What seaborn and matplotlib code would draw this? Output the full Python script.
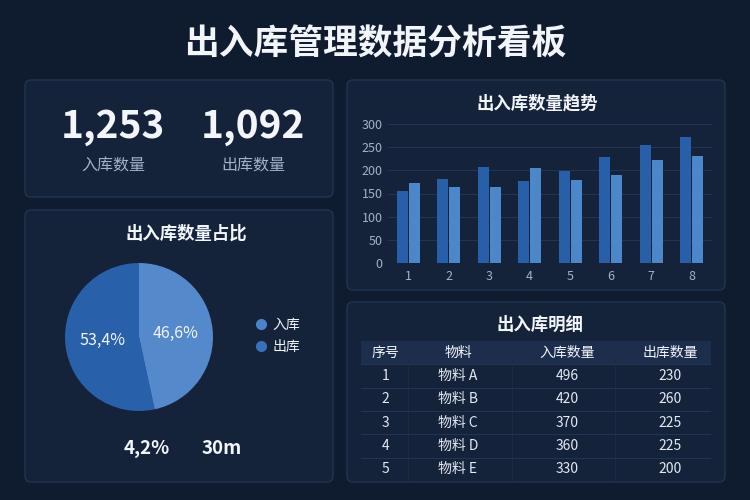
import matplotlib
matplotlib.use('Agg')
import matplotlib.pyplot as plt
from matplotlib.patches import FancyBboxPatch, Rectangle
from matplotlib.lines import Line2D
import seaborn as sns
import pandas as pd

# ---------------- data ----------------
periods = ['1', '2', '3', '4', '5', '6', '7', '8']
inbound = [156, 181, 207, 178, 199, 228, 255, 273]
outbound = [173, 163, 163, 205, 179, 190, 223, 230]
series_names = ['入库', '出库']

kpi_values = ['1,253', '1,092']
kpi_labels = ['入库数量', '出库数量']

pie_labels = ['入库', '出库']
pie_shares = [53.4, 46.6]
extra_stats = ['4,2%', '30m']

table_columns = ['序号', '物料', '入库数量', '出库数量']
table_index = ['1', '2', '3', '4', '5']
table_items = ['物料 A', '物料 B', '物料 C', '物料 D', '物料 E']
table_in = [496, 420, 370, 360, 330]
table_out = [230, 260, 225, 225, 200]

# ---------------- style ----------------
sns.set_theme(style='dark')
plt.rcParams['font.family'] = ['Noto Sans CJK SC', 'DejaVu Sans']
plt.rcParams['axes.unicode_minus'] = False

BG = '#0f1b2f'
PANEL = '#14223a'
BORDER = '#22344f'
DARK = '#2760a8'
LIGHT = '#4b87c9'
PIE_DARK = '#2960aa'
PIE_LIGHT = '#5489cc'
WHITE = '#f2f5fa'
MUTED = '#a3b2c7'
GRID = '#233451'

fig = plt.figure(figsize=(7.5, 5), dpi=100, facecolor=BG)

# background canvas in pixel coordinates
bg = fig.add_axes([0, 0, 1, 1])
bg.set_xlim(0, 750)
bg.set_ylim(500, 0)
bg.axis('off')
bg.set_facecolor(BG)

panels = [(25, 80, 308, 117), (25, 210, 308, 272), (347, 80, 378, 210), (347, 302, 378, 180)]
for (x, y, w, h) in panels:
    bg.add_patch(FancyBboxPatch((x, y), w, h, boxstyle='round,pad=0,rounding_size=6',
                                facecolor=PANEL, edgecolor=BORDER, linewidth=1.0))

bg.text(375, 44, '出入库管理数据分析看板', ha='center', va='center', color=WHITE,
        fontsize=25, fontweight='bold')

# KPI
for cx, val, lab in zip([113, 253], kpi_values, kpi_labels):
    bg.text(cx, 127, val, ha='center', va='center', color=WHITE, fontsize=28, fontweight='bold')
    bg.text(cx, 166, lab, ha='center', va='center', color=MUTED, fontsize=11.5)

# section titles
bg.text(186, 234, '出入库数量占比', ha='center', va='center', color=WHITE, fontsize=12.5, fontweight='bold')
bg.text(537, 103, '出入库数量趋势', ha='center', va='center', color=WHITE, fontsize=12.5, fontweight='bold')
bg.text(540, 325, '出入库明细', ha='center', va='center', color=WHITE, fontsize=12.5, fontweight='bold')

# extra stats under the pie
for cx, s in zip([147, 222], extra_stats):
    bg.text(cx, 448, s, ha='center', va='center', color=WHITE, fontsize=13.5, fontweight='bold')

# ---------------- bar chart ----------------
df = pd.DataFrame({
    'period': periods * 2,
    'value': inbound + outbound,
    'type': [series_names[0]] * len(periods) + [series_names[1]] * len(periods),
})
axb = fig.add_axes([388 / 750, 1 - 263 / 500, 324 / 750, 139 / 500])
axb.set_facecolor('none')
sns.barplot(data=df, x='period', y='value', hue='type', order=periods,
            palette=[DARK, LIGHT], width=0.58, gap=0.08, saturation=1,
            legend=False, linewidth=0, edgecolor='none', ax=axb)
axb.set_ylim(0, 300)
axb.set_xlim(-0.5, 7.5)
axb.set_yticks(range(0, 301, 50))
axb.set_xlabel('')
axb.set_ylabel('')
for s in axb.spines.values():
    s.set_visible(False)
axb.grid(axis='y', color=GRID, linewidth=0.8)
axb.grid(axis='x', visible=False)
axb.set_axisbelow(True)
axb.tick_params(axis='both', length=0, colors=MUTED, labelsize=9)
axb.tick_params(axis='y', pad=4)
axb.tick_params(axis='x', pad=5)

# ---------------- pie ----------------
r = 74
axp = fig.add_axes([(139 - r) / 750, 1 - (337 + r) / 500, 2 * r / 750, 2 * r / 500])
axp.pie(pie_shares, colors=[PIE_DARK, PIE_LIGHT], startangle=90, counterclock=True,
        autopct=lambda p: f'{p:.1f}'.replace('.', ',') + '%', pctdistance=0.5,
        textprops=dict(color=WHITE, fontsize=11.5), wedgeprops=dict(linewidth=0))
axp.set_xlim(-1, 1)
axp.set_ylim(-1, 1)
axp.set_aspect('equal')
axp.axis('off')

handles = [Line2D([], [], marker='o', linestyle='', markersize=8, markerfacecolor=c,
                  markeredgewidth=0) for c in ['#4b83c9', '#3a70b8']]
fig.legend(handles=handles, labels=pie_labels, loc='center left',
           bbox_to_anchor=(242 / 750, 1 - 336 / 500), frameon=False,
           labelcolor=WHITE, fontsize=10, handletextpad=0.3, labelspacing=0.55,
           handlelength=1.0)

# ---------------- table ----------------
axt = fig.add_axes([361 / 750, 1 - 481 / 500, 350 / 750, 140 / 500])
axt.set_xlim(0, 1)
axt.set_ylim(len(table_index) + 1, 0)
axt.axis('off')
col_centers = [0.069, 0.277, 0.589, 0.883]
col_bounds = [0.134, 0.43, 0.727]
axt.add_patch(Rectangle((0, 0), 1, 1, facecolor='#1c2e4c', edgecolor='none'))
for cx, name in zip(col_centers, table_columns):
    axt.text(cx, 0.5, name, ha='center', va='center', color=WHITE, fontsize=10)
rows = list(zip(table_index, table_items, table_in, table_out))
for i, row in enumerate(rows, start=1):
    for cx, v in zip(col_centers, row):
        axt.text(cx, i + 0.5, str(v), ha='center', va='center', color='#e3e9f2', fontsize=10)
    axt.axhline(i, color=BORDER, linewidth=0.8)
for b in col_bounds:
    axt.axvline(b, color='#1d2d47', linewidth=0.6)

fig.savefig('out.png', dpi=100, facecolor=BG)
